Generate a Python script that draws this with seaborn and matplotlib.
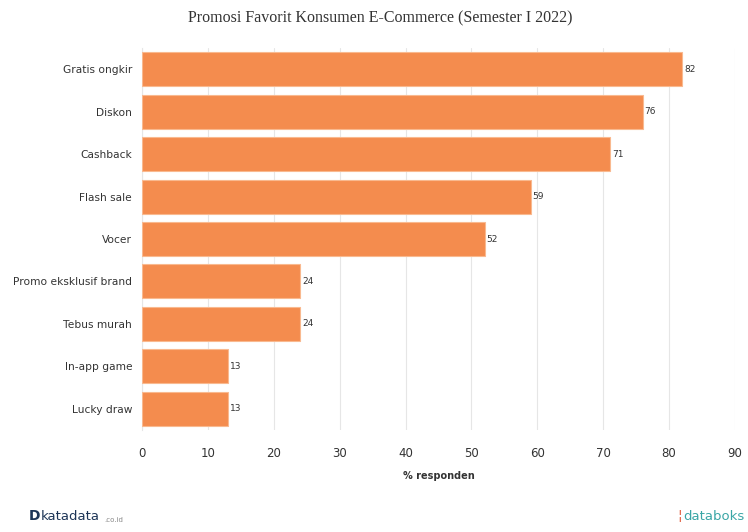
import matplotlib
matplotlib.use("Agg")
import matplotlib.pyplot as plt
import seaborn as sns
import pandas as pd

categories = ["Gratis ongkir", "Diskon", "Cashback", "Flash sale", "Vocer",
              "Promo eksklusif brand", "Tebus murah", "In-app game", "Lucky draw"]
values = [82, 76, 71, 59, 52, 24, 24, 13, 13]
xticks = [0, 10, 20, 30, 40, 50, 60, 70, 80, 90]

df = pd.DataFrame({"cat": categories, "val": values})

sns.set_style("white")
plt.rcParams['font.family'] = ['DejaVu Sans']

fig = plt.figure(figsize=(7.48, 5.32), dpi=100)
ax = fig.add_axes([0.1898, 0.1917, 0.9826 - 0.1898, 0.9098 - 0.1917])

sns.barplot(data=df, y="cat", x="val", orient="h", color="#F48C4E",
            saturation=1, width=0.8, edgecolor="#F9B98F", linewidth=0.8, ax=ax, zorder=3)

ax.set_xlim(0, 90)
ax.set_xticks(xticks)
ax.set_xticklabels([str(t) for t in xticks], fontsize=8.5, color="#333333")
ax.tick_params(axis="x", length=0, pad=12)
ax.tick_params(axis="y", length=4, color="#cccccc", width=0.8, labelsize=7.7, labelcolor="#333333", pad=3)
ax.grid(axis="x", color="#e6e6e6", linewidth=0.8, zorder=0)
for s in ["top", "right", "bottom"]:
    ax.spines[s].set_visible(False)
ax.spines["left"].set_color("#e6e6e6")
ax.set_ylabel("")
ax.set_xlabel("% responden", fontsize=7, fontweight="bold", color="#333333", labelpad=8)

for p, v in zip(ax.patches, values):
    ax.text(p.get_width() + 0.3, p.get_y() + p.get_height() / 2, str(v),
            va="center", ha="left", fontsize=6.5, color="#333333")

fig.text(0.508, 0.965, "Promosi Favorit Konsumen E-Commerce (Semester I 2022)",
         ha="center", va="center", fontsize=11.5, family="Liberation Serif", color="#333333")

fig.text(0.038, 0.017, "D", fontsize=10, fontweight="bold", color="#1d3557", ha="left", va="bottom")
fig.text(0.055, 0.017, "katadata", fontsize=9.5, color="#1d3557", ha="left", va="bottom")
fig.text(0.14, 0.017, ".co.id", fontsize=5, color="#888888", ha="left", va="bottom")
fig.text(0.995, 0.017, "databoks", fontsize=9.5, color="#3aa6a6", ha="right", va="bottom")
fig.text(0.912, 0.017, "\u00a6", fontsize=10, color="#e05a3a", ha="right", va="bottom")

fig.savefig("out.png", dpi=100)
